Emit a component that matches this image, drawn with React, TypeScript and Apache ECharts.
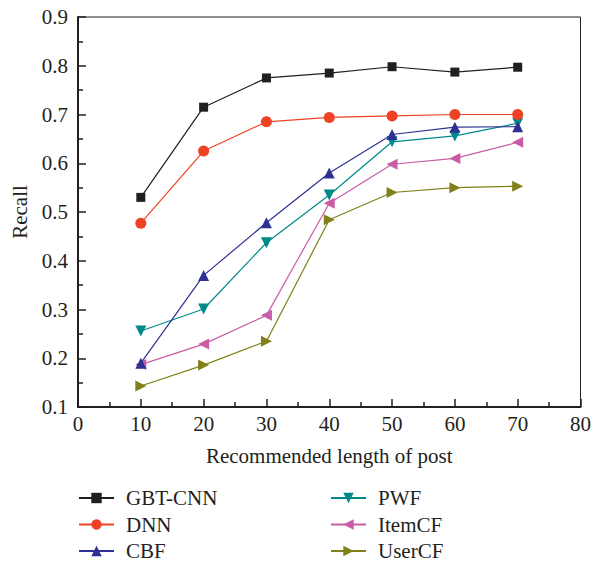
import React, { useEffect, useRef } from "react";
import * as echarts from "echarts";

const xValues = [10, 20, 30, 40, 50, 60, 70];
const gbtCnn = [0.53, 0.715, 0.775, 0.785, 0.798, 0.787, 0.797];
const dnn = [0.477, 0.625, 0.685, 0.694, 0.697, 0.7, 0.7];
const cbf = [0.19, 0.37, 0.478, 0.58, 0.659, 0.674, 0.675];
const pwf = [0.256, 0.301, 0.437, 0.535, 0.644, 0.656, 0.682];
const itemCF = [0.187, 0.229, 0.288, 0.518, 0.598, 0.61, 0.643];
const userCF = [0.143, 0.186, 0.235, 0.484, 0.54, 0.55, 0.553];

const names = ["GBT-CNN", "DNN", "CBF", "PWF", "ItemCF", "UserCF"];
const colors = ["#231f20", "#ef4123", "#2e3192", "#00898a", "#c85ca6", "#808019"];

const FONT = "Liberation Serif";
const TEXT = "#231f20";
const FS = 21;

const TRI_DOWN = "path://M0,0 L10,0 L5,9 Z";
const TRI_LEFT = "path://M0,5 L9,0 L9,10 Z";
const TRI_RIGHT = "path://M0,0 L9,5 L0,10 Z";

export default function App() {
  const ref = useRef<HTMLDivElement>(null);
  useEffect(() => {
    document.body.style.margin = "0";
    if (!ref.current) return;
    const chart = echarts.init(ref.current, null, { renderer: "svg" });
    const seriesData = [gbtCnn, dnn, cbf, pwf, itemCF, userCF];
    const symbols = ["rect", "circle", "triangle", TRI_DOWN, TRI_LEFT, TRI_RIGHT];
    const sizes = [9, 11, 11, 11, 11, 11];
    const series = seriesData.map((vals, i) => ({
      name: names[i],
      type: "line",
      data: vals.map((v, j) => [xValues[j], v]),
      symbol: symbols[i],
      symbolSize: sizes[i],
      showSymbol: true,
      lineStyle: { color: colors[i], width: 1.2 },
      itemStyle: { color: colors[i] },
      color: colors[i],
      z: 10 - i,
    }));
    const legendBase = {
      orient: "vertical",
      padding: 0,
      itemWidth: 35,
      itemHeight: 13,
      itemGap: 5.5,
      bottom: 2.5,
      textStyle: { fontFamily: FONT, fontSize: FS, color: TEXT, padding: [0, 0, 0, 7] },
    };
    chart.setOption({
      animation: false,
      grid: {
        left: 78,
        right: 10,
        top: 17,
        bottom: 157,
        show: true,
        borderColor: TEXT,
        borderWidth: 1,
      },
      xAxis: {
        type: "value",
        min: 0,
        max: 80,
        interval: 10,
        name: "Recommended length of post",
        nameLocation: "middle",
        nameGap: 38,
        nameTextStyle: { fontFamily: FONT, fontSize: FS, color: TEXT },
        axisLine: { show: true, lineStyle: { color: TEXT, width: 2 } },
        axisTick: { show: true, inside: true, length: 8, lineStyle: { color: TEXT, width: 1.5 } },
        minorTick: { show: true, splitNumber: 2, length: 5, lineStyle: { color: TEXT, width: 1.5 } },
        axisLabel: { fontFamily: FONT, fontSize: FS, color: TEXT, margin: 6 },
        splitLine: { show: false },
      },
      yAxis: {
        type: "value",
        min: 0.1,
        max: 0.9,
        interval: 0.1,
        name: "Recall",
        nameLocation: "middle",
        nameGap: 42,
        nameTextStyle: { fontFamily: FONT, fontSize: FS, color: TEXT },
        axisLine: { show: true, lineStyle: { color: TEXT, width: 2 } },
        axisTick: { show: true, inside: true, length: 8, lineStyle: { color: TEXT, width: 1.5 } },
        minorTick: { show: true, splitNumber: 2, length: 5, lineStyle: { color: TEXT, width: 1.5 } },
        axisLabel: {
          fontFamily: FONT,
          fontSize: FS,
          color: TEXT,
          margin: 10,
          formatter: (v: number) => v.toFixed(1),
        },
        splitLine: { show: false },
      },
      legend: [
        { ...legendBase, data: names.slice(0, 3), left: 78 },
        { ...legendBase, data: names.slice(3, 6), left: 330 },
      ],
      series,
    });
    return () => chart.dispose();
  }, []);
  return <div ref={ref} style={{ width: 594, height: 564 }} />;
}
